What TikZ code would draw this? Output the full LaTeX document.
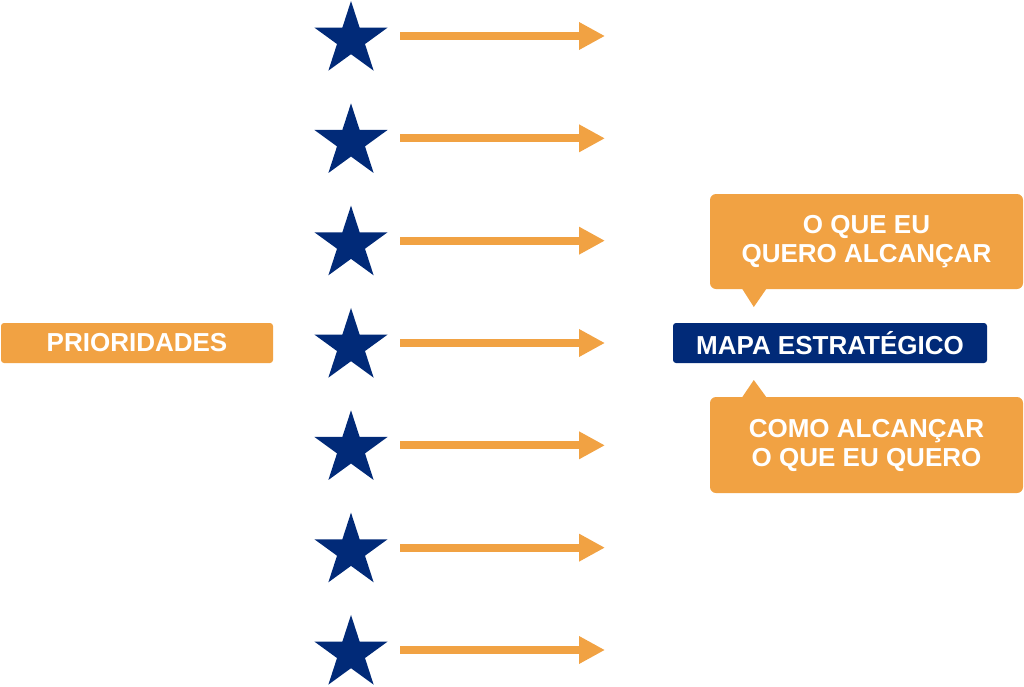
\documentclass[tikz,border=0pt]{standalone}
\usepackage{fontspec}
\setmainfont{Liberation Sans}
\usetikzlibrary{shapes.geometric,arrows.meta}
\definecolor{orng}{HTML}{F1A243}
\definecolor{navy}{HTML}{012A78}
\tikzset{
  starmark/.style={star, star points=5, star point ratio=2.618, minimum size=77pt, inner sep=0pt, fill=navy, draw=none},
  orarrow/.style={draw=orng, line width=8pt, -{Triangle[length=26pt,width=26pt]}},
  lbl/.style={text=white, font=\fontsize{26}{29}\selectfont\bfseries, align=center, inner sep=0pt},
  obox/.style={lbl, fill=orng, rounded corners=3pt},
  callout/.style={lbl, fill=orng, rounded corners=6pt, minimum width=313pt},
  nbox/.style={lbl, fill=navy, rounded corners=3pt}
}
\begin{document}
\begin{tikzpicture}[x=1pt,y=-1pt]
\useasboundingbox (0,0) rectangle (1024,686);
\foreach \k in {0,...,6}{
  \pgfmathsetmacro{\cy}{39.5+102.33*\k}
  \pgfmathsetmacro{\ay}{36+102.33*\k}
  \node[starmark] (s\k) at (351,\cy) {};
  \coordinate (a\k) at (400,\ay);
  \coordinate (b\k) at (605,\ay);
  \draw[orarrow] (a\k) -- (b\k);
}
\node[obox, minimum width=272pt, minimum height=40pt] (prio) at (137,343) {PRIORIDADES};
\node[nbox, minimum width=314pt, minimum height=40pt] (mapa) at (830,343) {MAPA ESTRATÉGICO};
\node[callout, minimum height=95pt] (top) at (866.5,241.5) {O QUE EU\\QUERO ALCANÇAR};
\node[callout, minimum height=96pt] (bot) at (866.5,445) {COMO ALCANÇAR\\O QUE EU QUERO};
\fill[orng] ([xshift=32pt,yshift=1pt]top.south west) -- ([xshift=44pt]top.south west |- 0,307) -- ([xshift=57pt,yshift=1pt]top.south west) -- cycle;
\fill[orng] ([xshift=32pt,yshift=-1pt]bot.north west) -- ([xshift=44pt]bot.north west |- 0,380) -- ([xshift=57pt,yshift=-1pt]bot.north west) -- cycle;
\end{tikzpicture}
\end{document}
